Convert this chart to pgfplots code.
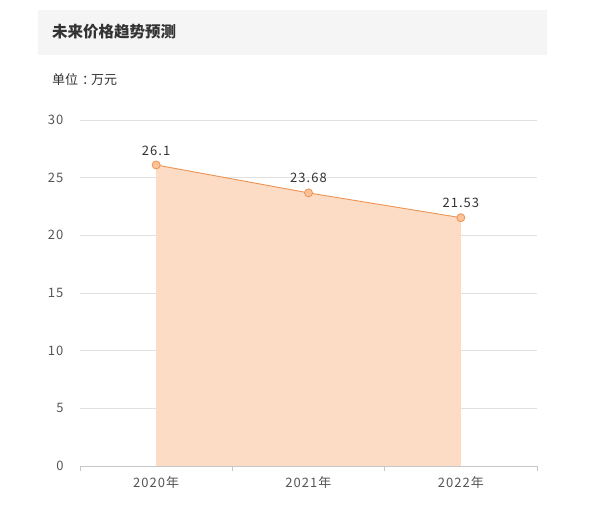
\documentclass[border=0pt]{standalone}
\usepackage{pgfplots}
\pgfplotsset{compat=1.18}
\usepackage{fontspec}
\setmainfont{Noto Sans CJK SC}
\newfontfamily\lblfont[LetterSpace=8]{Noto Sans CJK SC}
\definecolor{titlebg}{HTML}{F5F5F5}
\definecolor{titletxt}{HTML}{333333}
\definecolor{lbl}{HTML}{555555}
\definecolor{gridc}{HTML}{E0E0E0}
\definecolor{axisc}{HTML}{C8C8C8}
\definecolor{areac}{HTML}{FDDCC6}
\definecolor{linec}{HTML}{EE9350}
\definecolor{markc}{HTML}{FCC29A}

\begin{document}
\begin{tikzpicture}[x=1pt,y=1pt]
  \path[fill=white] (0,0) rectangle (598,511);
  \fill[titlebg] (38,456) rectangle (547,501);
  \node[anchor=west,inner sep=0pt,text=titletxt,font=\fontsize{15.5}{17}\selectfont\bfseries] at (52,479) {未来价格趋势预测};
  \node[anchor=west,inner sep=0pt,text=titletxt,font=\fontsize{13}{15}\selectfont] at (52,431) {单位\hspace{4pt}：\hspace{-4pt}万元};
  \begin{axis}[
    at={(80pt,45pt)}, anchor=south west,
    scale only axis, width=457pt, height=346pt,
    xmin=-0.5, xmax=2.5, ymin=0, ymax=30,
    ytick={0,5,10,15,20,25,30},
    xtick={-0.5,0.5,1.5,2.5}, xticklabels={},
    extra x ticks={0,1,2},
    extra x tick labels={2020年,2021年,2022年},
    extra x tick style={major tick length=0pt, grid=none},
    ymajorgrids, grid style={gridc, line width=0.7pt},
    axis x line*=bottom, axis y line*=left,
    x axis line style={axisc, line width=0.8pt, -},
    y axis line style={draw=none},
    tick align=outside,
    xtick pos=bottom, ytick pos=left,
    major tick length=5pt,
    xtick style={axisc, line width=0.8pt},
    ytick style={draw=none},
    tick label style={text=lbl, font=\lblfont\fontsize{13}{15}\selectfont},
    /pgf/number format/assume math mode=true,
    yticklabel style={xshift=-8pt},
    xticklabel style={yshift=-7pt},
    clip=false,
  ]
    \addplot[draw=none, fill=areac] coordinates {(0,26.1) (1,23.68) (2,21.53)} \closedcycle;
    \addplot[linec, line width=0.9pt, mark=*, mark size=4pt,
      mark options={fill=markc, draw=linec, line width=0.8pt},
      nodes near coords, point meta=explicit symbolic,
      nodes near coords style={text=titletxt, font=\lblfont\fontsize{13}{15}\selectfont, yshift=6pt}]
      coordinates {(0,26.1)[26.1] (1,23.68)[23.68] (2,21.53)[21.53]};
  \end{axis}
\end{tikzpicture}
\end{document}
